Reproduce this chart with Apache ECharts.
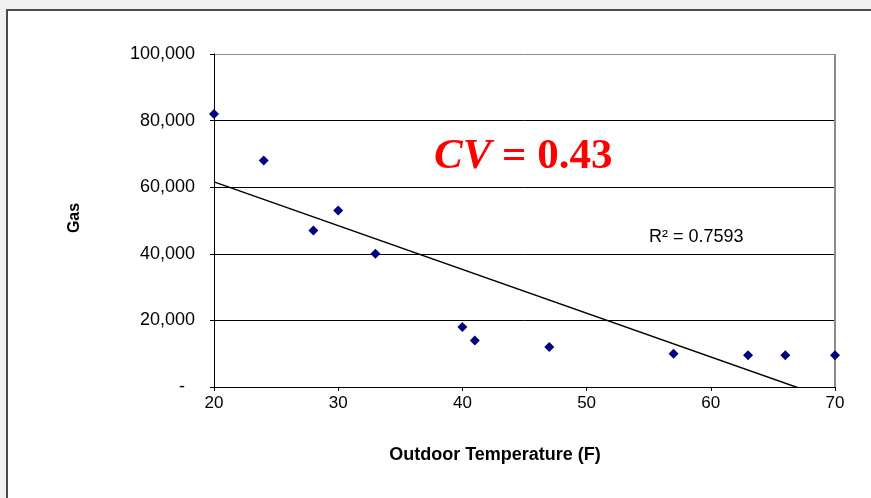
<!DOCTYPE html>
<html>
<head>
<meta charset="utf-8">
<script src="https://cdn.jsdelivr.net/npm/echarts@6/dist/echarts.min.js"></script>
<style>
html,body{margin:0;padding:0;width:871px;height:498px;overflow:hidden;
  background:#f1f1f1;}
#frame{position:absolute;left:6px;top:9px;right:0;bottom:0;background:#fff;
  border-left:2px solid #4a4a4a;border-top:2px solid #4a4a4a;}
#chart{position:absolute;left:0;top:0;width:871px;height:498px;}
</style>
</head>
<body>
<div id="frame"></div>
<div id="chart"></div>
<script>
// ---- data ----
var temps = [20, 24, 28, 30, 33, 40, 41, 47, 57, 63, 66, 70];
var gas   = [82000, 68000, 47000, 53000, 40000, 18000, 14000, 12000, 10000, 9500, 9500, 9500];
var xTicks = [20, 30, 40, 50, 60, 70];
var yTicks = [0, 20000, 40000, 60000, 80000, 100000];
var xTitle = 'Outdoor Temperature (F)';
var yTitle = 'Gas';
var cvLabel = 'CV';
var cvValue = ' = 0.43';
var r2Text = 'R\u00b2 = 0.7593';

// linear least-squares trend line from the data
var n = temps.length, mx = 0, my = 0;
for (var i = 0; i < n; i++) { mx += temps[i]; my += gas[i]; }
mx /= n; my /= n;
var sxy = 0, sxx = 0;
for (var i = 0; i < n; i++) { sxy += (temps[i]-mx)*(gas[i]-my); sxx += (temps[i]-mx)*(temps[i]-mx); }
var slope = sxy / sxx, icpt = my - slope * mx;
var x0 = xTicks[0], x1 = xTicks[xTicks.length-1];
var trend = [[x0, icpt + slope*x0], [x1, icpt + slope*x1]];

var pts = temps.map(function(t, i){ return [t, gas[i]]; });

var chart = echarts.init(document.getElementById('chart'), null, {renderer:'canvas'});
var clear = 'rgba(0,0,0,0)';
chart.setOption({
  animation: false,
  backgroundColor: 'transparent',
  grid: {left: 214, top: 54, right: 36, bottom: 111, containLabel: false},
  xAxis: {
    type: 'value', min: x0, max: x1, interval: 10,
    axisLine: {show: true, onZero: false, lineStyle: {color: '#000', width: 1}},
    axisTick: {show: true, length: 4, lineStyle: {color: '#000'}},
    axisLabel: {color: '#000', fontFamily: '"Liberation Sans", Arial, sans-serif',
      fontSize: 17, margin: 8},
    splitLine: {show: true, lineStyle: {color: [clear, clear, clear, clear, clear, '#8c8c8c'], width: 2}}
  },
  yAxis: {
    type: 'value', min: 0, max: yTicks[yTicks.length-1], interval: 20000,
    axisLine: {show: true, lineStyle: {color: '#000', width: 1}},
    axisTick: {show: true, length: 4, lineStyle: {color: '#000'}},
    axisLabel: {color: '#000', fontFamily: '"Liberation Sans", Arial, sans-serif', fontSize: 18, margin: 19,
      formatter: function(v){ return v === 0 ? '-  ' : v.toLocaleString('en-US'); }},
    splitLine: {show: true, lineStyle: {color: ['#000', '#000', '#000', '#000', '#000', '#8c8c8c'], width: 1}}
  },
  series: [
    {
      type: 'line', data: trend, symbol: 'none', clip: true, z: 3,
      lineStyle: {color: '#000', width: 1.5}
    },
    {
      type: 'scatter', data: pts, symbol: 'diamond', symbolSize: 10, clip: false, z: 4,
      itemStyle: {color: '#000080', opacity: 1}
    }
  ],
  graphic: [
    {type: 'text', x: 495, y: 455, z: 10, style: {text: xTitle, fill: '#000',
      font: 'bold 18px "Liberation Sans", Arial, sans-serif',
      textAlign: 'center', textVerticalAlign: 'middle'}},
    {type: 'text', x: 75, y: 218, rotation: Math.PI/2, z: 10, style: {text: yTitle, fill: '#000',
      font: 'bold 16px "Liberation Sans", Arial, sans-serif',
      textAlign: 'center', textVerticalAlign: 'middle'}},
    {type: 'text', x: 434, y: 157, z: 10, style: {text: '{a|' + cvLabel + '}{b|' + cvValue + '}',
      textAlign: 'left', textVerticalAlign: 'middle',
      rich: {
        a: {fill: '#ff0000', font: 'italic bold 43px "Liberation Serif", "Times New Roman", serif'},
        b: {fill: '#ff0000', font: 'bold 43px "Liberation Serif", "Times New Roman", serif'}
      }}},
    {type: 'text', x: 649, y: 237, z: 10, style: {text: r2Text, fill: '#000',
      font: '18px "Liberation Sans", Arial, sans-serif',
      textAlign: 'left', textVerticalAlign: 'middle'}}
  ]
});
</script>
</body>
</html>
